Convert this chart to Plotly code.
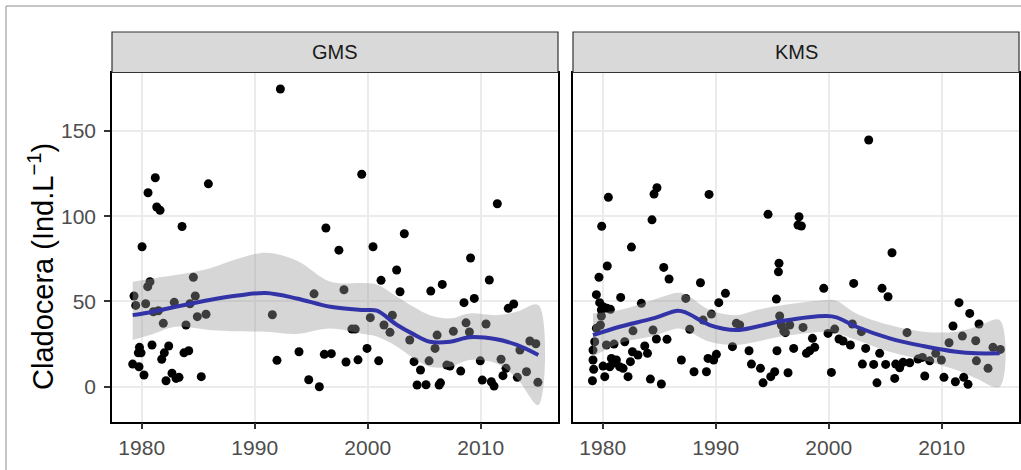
import plotly.graph_objects as go

W, H = 1021, 470

# ---------------- data ----------------
gms_year = [1992.27, 1981.2, 1980.56, 1981.33, 1981.62, 1985.9, 1983.57, 1980.03, 1996.3, 1997.45,
            1999.47, 2011.47, 2003.24, 2000.47, 2009.1, 2002.56, 1984.57, 1980.73, 1980.53, 1979.32,
            1979.47, 1980.35, 1982.88, 1984.74, 1984.27, 1981.03, 1981.47, 1981.91, 1983.92, 1984.92,
            1985.69, 1991.56, 1995.25, 1979.8, 1979.94, 1979.7, 1980.91, 1982.39, 1982.0, 1981.77,
            1983.74, 1984.16, 1979.2, 1979.76, 1980.2, 1982.15, 1982.68, 1983.04, 1983.3, 1985.27,
            1991.97, 1993.92, 1994.78, 1995.72, 1996.16, 1996.78, 1997.9, 2001.18, 2002.86, 2005.58,
            2006.6, 2010.76, 2008.52, 2009.43, 2012.44, 2012.92, 1998.08, 1999.14, 1999.94, 2000.23,
            1998.6, 1998.9, 2000.97, 2001.44, 2001.97, 2002.18, 2003.72, 2004.1, 2004.67, 2004.37,
            2005.16, 2005.43, 2005.96, 2006.14, 2006.32, 2006.44, 2007.0, 2007.28, 2007.58, 2008.23,
            2008.7, 2009.0, 2009.96, 2010.14, 2010.47, 2010.94, 2011.18, 2011.8, 2011.97, 2012.24,
            2013.24, 2013.47, 2014.05, 2014.35, 2014.88, 2015.06]
gms_value = [174.6, 122.6, 113.8, 105.4, 103.5, 119.0, 94.0, 82.1, 93.1, 80.1,
             124.6, 107.3, 89.7, 82.1, 75.5, 68.5, 64.2, 61.6, 58.7, 53.2,
             47.7, 48.7, 49.5, 53.2, 48.7, 44.0, 44.6, 37.2, 36.2, 41.1,
             42.5, 42.2, 54.5, 23.1, 19.9, 19.9, 24.5, 23.9, 19.9, 16.1,
             19.9, 21.1, 13.3, 11.7, 6.9, 3.5, 7.9, 4.9, 5.5, 5.9,
             15.5, 20.5, 4.1, 0.0, 19.0, 19.4, 56.9, 62.4, 55.7, 56.1,
             60.0, 62.6, 49.3, 51.8, 46.0, 48.5, 14.5, 15.8, 22.5, 40.5,
             33.8, 33.8, 15.2, 36.2, 31.9, 41.9, 27.4, 14.7, 9.8, 1.0,
             1.2, 15.2, 22.5, 30.3, 1.0, 2.3, 12.7, 12.1, 32.5, 9.2,
             37.5, 32.1, 15.2, 3.9, 36.8, 2.9, 0.4, 16.1, 6.5, 10.8,
             5.5, 21.5, 8.8, 26.8, 25.2, 2.6]

kms_year = [1980.5, 1984.8, 1984.54, 1989.41, 1979.91, 1984.36, 1982.54, 1980.4, 1985.4, 1994.63,
            1997.37, 1997.28, 1997.58, 1995.6, 1995.55, 2003.54, 2005.6, 1985.87, 1979.67, 1988.65,
            1979.44, 1979.73, 1980.03, 1980.38, 1980.68, 1979.88, 1981.59, 1983.42, 1987.35, 1990.27,
            1990.86, 1989.62, 1995.37, 1995.66, 1995.81, 1996.02, 1996.17, 1979.88, 1979.44, 1979.8,
            1982.68, 1984.45, 1987.7, 1988.88, 1991.83, 1992.12, 1979.29, 1979.14, 1980.33, 1981.0,
            1981.95, 1983.72, 1983.96, 1984.75, 1985.69, 1982.63, 1983.12, 1979.14, 1979.2, 1979.09,
            1980.03, 1980.18, 1980.77, 1980.91, 1981.21, 1981.5, 1981.8, 1982.24, 1982.45, 1980.62,
            1984.22, 1985.19, 1986.96, 1988.08, 1989.18, 1989.32, 1989.82, 1990.06, 1991.48, 1992.95,
            1993.16, 1993.96, 1994.19, 1994.87, 1995.22, 1995.42, 1996.4, 1996.9, 1999.56, 2002.21,
            2004.72, 2005.25, 2011.53, 2012.48, 2013.3, 2011.0, 1996.55, 1997.73, 1998.56, 1998.03,
            1998.32, 1998.76, 2000.24, 1999.94, 2000.53, 2000.91, 2001.27, 2001.92, 2002.09, 2002.89,
            2003.27, 2002.98, 2003.98, 2004.27, 2004.51, 2005.04, 2005.84, 2005.93, 2006.28, 2006.58,
            2007.17, 2006.93, 2007.9, 2008.29, 2008.94, 2008.5, 2009.47, 2009.97, 2010.2, 2010.65,
            2011.21, 2011.83, 2011.95, 2012.33, 2013.01, 2013.07, 2014.1, 2014.54, 2015.19]
kms_value = [111.1, 116.7, 113.0, 112.8, 94.1, 97.9, 81.9, 70.8, 70.0, 101.1,
             99.7, 94.8, 94.3, 72.4, 67.4, 144.7, 78.6, 63.2, 64.2, 61.0,
             54.0, 49.3, 46.9, 46.0, 45.4, 45.0, 52.4, 48.9, 51.8, 49.3,
             54.8, 42.6, 51.4, 41.5, 36.2, 32.7, 31.7, 41.5, 34.3, 36.2,
             32.8, 33.3, 33.7, 39.1, 37.2, 36.2, 26.4, 21.5, 24.5, 25.0,
             26.4, 23.9, 19.6, 28.0, 27.8, 20.5, 18.6, 15.7, 10.2, 3.5,
             12.1, 5.9, 16.6, 13.7, 15.7, 11.7, 10.8, 5.9, 14.7, 11.7,
             4.5, 1.6, 15.7, 8.8, 8.8, 16.6, 15.7, 19.0, 23.5, 21.1,
             13.3, 10.8, 2.3, 5.9, 8.8, 21.1, 8.2, 22.5, 57.7, 60.6,
             57.7, 52.8, 49.3, 43.0, 36.8, 35.6, 36.2, 34.8, 28.4, 19.6,
             21.1, 23.1, 8.4, 31.3, 33.8, 28.0, 26.8, 24.5, 36.8, 32.3,
             22.5, 13.3, 13.1, 2.3, 19.6, 13.1, 4.9, 13.3, 11.1, 14.3,
             14.1, 31.7, 16.2, 17.2, 15.2, 6.3, 19.6, 15.7, 5.5, 25.8,
             2.9, 29.7, 5.5, 1.4, 27.0, 15.2, 10.8, 23.1, 21.9]

# smoother (loess)
gms_fit_year = [1979.2, 1981, 1983, 1986, 1988.5, 1991, 1993.7, 1996.7, 1999.6, 2000.8,
                2002.6, 2004, 2005.5, 2007.3, 2009, 2011.4, 2013.2, 2015.1]
gms_fit = [42, 44, 46.9, 50.9, 53.5, 55, 51.8, 46.9, 45, 44.6,
           36.2, 31, 26.4, 26.4, 29, 27.8, 24.5, 18.6]
gms_upper = [61.6, 63.5, 65.5, 69.4, 75, 78.6, 74, 61.6, 60.8, 60,
             52.8, 47, 42, 40.1, 43, 42, 44, 47.9]
gms_lower = [27.4, 31, 35.2, 33.3, 32.5, 32.3, 31, 34.2, 31, 29.5,
             23.5, 17, 11.7, 11.7, 15.7, 13.7, 4.9, -10.7]

kms_fit_year = [1979.14, 1981.5, 1984.45, 1986.66, 1987.4, 1989.47, 1991.83, 1993.6, 1996,
                1999.8, 2000.68, 2002.45, 2005.4, 2008.35, 2011.3, 2013.07, 2015.13]
kms_fit = [30.3, 35.2, 40.1, 44.6, 43.4, 36.2, 33.3, 35.2, 38.7,
           41.5, 40.7, 35.2, 28.4, 23.9, 20.5, 19.6, 19.6]
kms_upper = [43, 45, 50.9, 55.1, 54, 45, 42, 45, 47.9,
             50.9, 50.5, 43, 36.2, 32.3, 32.3, 35.2, 39.1]
kms_lower = [17.6, 25.5, 29.7, 34.2, 33, 26.4, 24.5, 26.4, 29.7,
             32.3, 31.5, 27.4, 20.5, 15.7, 9.8, 4.9, 0]

panels = ["GMS", "KMS"]
x_ticks = [1980, 1990, 2000, 2010]
y_ticks = [0, 50, 100, 150]

# ---------------- figure ----------------
FONT = "Liberation Sans, Arial, sans-serif"
fig = go.Figure()

series = [
    (gms_year, gms_value, gms_fit_year, gms_fit, gms_upper, gms_lower, "x", "y"),
    (kms_year, kms_value, kms_fit_year, kms_fit, kms_upper, kms_lower, "x2", "y2"),
]
for yr, val, fy, fit, up, lo, xa, ya in series:
    fig.add_trace(go.Scatter(x=yr, y=val, mode="markers", xaxis=xa, yaxis=ya,
                             marker=dict(color="black", size=9, line=dict(width=0)),
                             showlegend=False, hoverinfo="skip"))
    fig.add_trace(go.Scatter(x=list(fy) + list(fy[::-1]), y=list(up) + list(lo[::-1]),
                             mode="lines", fill="toself", xaxis=xa, yaxis=ya,
                             fillcolor="rgba(153,153,153,0.4)", line=dict(width=0, shape="spline"),
                             showlegend=False, hoverinfo="skip"))
    fig.add_trace(go.Scatter(x=fy, y=fit, mode="lines", xaxis=xa, yaxis=ya,
                             line=dict(color="#3333A8", width=4, shape="spline"),
                             showlegend=False, hoverinfo="skip"))

def px_x(p):
    return p / W

def px_y(p):
    return 1 - p / H

panel_x = [(112, 558), (573, 1019)]
top_px, bot_px = 72.5, 421.7
strip_top = 32

common_x = dict(range=[1977.37, 2016.84], tickvals=x_ticks, showgrid=True, gridcolor="#EBEBEB",
                gridwidth=1.5, zeroline=False, showline=True, linecolor="black", linewidth=1.5,
                mirror=True, ticks="outside", ticklen=6, tickwidth=1.5, tickcolor="#333333",
                tickfont=dict(family=FONT, size=21, color="#4D4D4D"), automargin=False)
common_y = dict(range=[-20.5, 184.3], tickvals=y_ticks, showgrid=True, gridcolor="#EBEBEB",
                gridwidth=1.5, zeroline=False, showline=True, linecolor="black", linewidth=1.5,
                mirror=True, automargin=False,
                domain=[px_y(bot_px), px_y(top_px)])

fig.update_layout(
    width=W, height=H,
    margin=dict(l=0, r=0, t=0, b=0),
    paper_bgcolor="white", plot_bgcolor="white",
    font=dict(family=FONT),
    xaxis=dict(domain=[px_x(panel_x[0][0]), px_x(panel_x[0][1])], anchor="y", **common_x),
    xaxis2=dict(domain=[px_x(panel_x[1][0]), px_x(panel_x[1][1])], anchor="y2", **common_x),
    yaxis=dict(anchor="x", ticks="outside", ticklen=6, tickwidth=1.5, tickcolor="#333333",
               ticklabelstandoff=4,
               tickfont=dict(family=FONT, size=21, color="#4D4D4D"), **common_y),
    yaxis2=dict(anchor="x2", showticklabels=False, ticks="", **common_y),
)

shapes = []
annotations = []
for (x0, x1), name in zip(panel_x, panels):
    shapes.append(dict(type="rect", xref="paper", yref="paper",
                       x0=px_x(x0), x1=px_x(x1), y0=px_y(top_px), y1=px_y(strip_top),
                       fillcolor="#D9D9D9", line=dict(color="#333333", width=1.2), layer="above"))
    annotations.append(dict(text=name, xref="paper", yref="paper",
                            x=px_x((x0 + x1) / 2), y=px_y((strip_top + top_px) / 2),
                            showarrow=False, xanchor="center", yanchor="middle",
                            font=dict(family=FONT, size=20, color="#1A1A1A")))

# outer frame of the picture
shapes.append(dict(type="line", xref="paper", yref="paper", x0=px_x(6), x1=px_x(6),
                   y0=0, y1=px_y(6), line=dict(color="#8C8C8C", width=1)))
shapes.append(dict(type="line", xref="paper", yref="paper", x0=px_x(6), x1=1,
                   y0=px_y(6), y1=px_y(6), line=dict(color="#8C8C8C", width=1)))

annotations.append(dict(text="Cladocera (Ind.L<sup>\u22121</sup>)", xref="paper", yref="paper",
                        x=px_x(41), y=px_y(267), textangle=-90,
                        showarrow=False, xanchor="center", yanchor="middle",
                        font=dict(family=FONT, size=29, color="black")))

fig.update_layout(shapes=shapes, annotations=annotations)
fig.write_html("out.html", config={"displayModeBar": False},
               post_script="document.body.style.margin='0';document.body.style.padding='0';")
